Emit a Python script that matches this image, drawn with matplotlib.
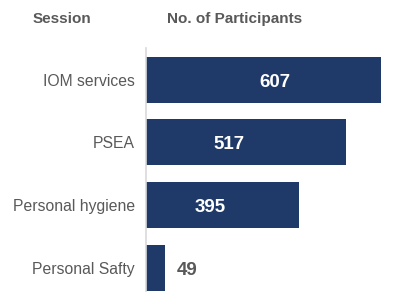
import matplotlib
matplotlib.use("Agg")
import matplotlib.pyplot as plt

sessions = ["IOM services", "PSEA", "Personal hygiene", "Personal Safty"]
participants = [607, 517, 395, 49]
label_pos = [333, 214, 165, 105]
label_inside = [True, True, True, False]

bar_color = "#1F3A68"
gray = "#595959"

plt.rcParams['font.family'] = ['Liberation Sans', 'DejaVu Sans']

W, H = 417, 292
fig = plt.figure(figsize=(W / 100, H / 100), dpi=100)
ax_left = 146 / W
ax_w = 260 / W
ax_top = 1 - 48.3 / H
ax_h = 250.7 / H
ax = fig.add_axes([ax_left, ax_top - ax_h, ax_w, ax_h])

y = list(range(len(sessions)))
ax.barh(y, participants, height=0.735, color=bar_color, zorder=2)
ax.set_xlim(0, 260 / 0.3875)
ax.set_ylim(len(sessions) - 0.5, -0.5)

for yi, v, lp, inside in zip(y, participants, label_pos, label_inside):
    ax.text(lp, yi + 0.04, str(v), ha="center", va="center",
            color="white" if inside else gray, fontsize=13.5, fontweight="bold")

ax.set_yticks(y)
ax.set_yticklabels(sessions, fontsize=11.3, color=gray)
ax.tick_params(axis="y", length=0, pad=8)
ax.set_xticks([])
for s in ["top", "right", "bottom"]:
    ax.spines[s].set_visible(False)
ax.spines["left"].set_color("#D9D9D9")
ax.spines["left"].set_linewidth(1.2)
ax.spines["left"].set_zorder(3)

fig.text(33 / W, 1 - 19 / H, "Session", ha="left", va="center",
         fontsize=11, fontweight="bold", color=gray)
fig.text(167 / W, 1 - 19 / H, "No. of Participants", ha="left", va="center",
         fontsize=11, fontweight="bold", color=gray)

fig.savefig("out.png", dpi=100)
